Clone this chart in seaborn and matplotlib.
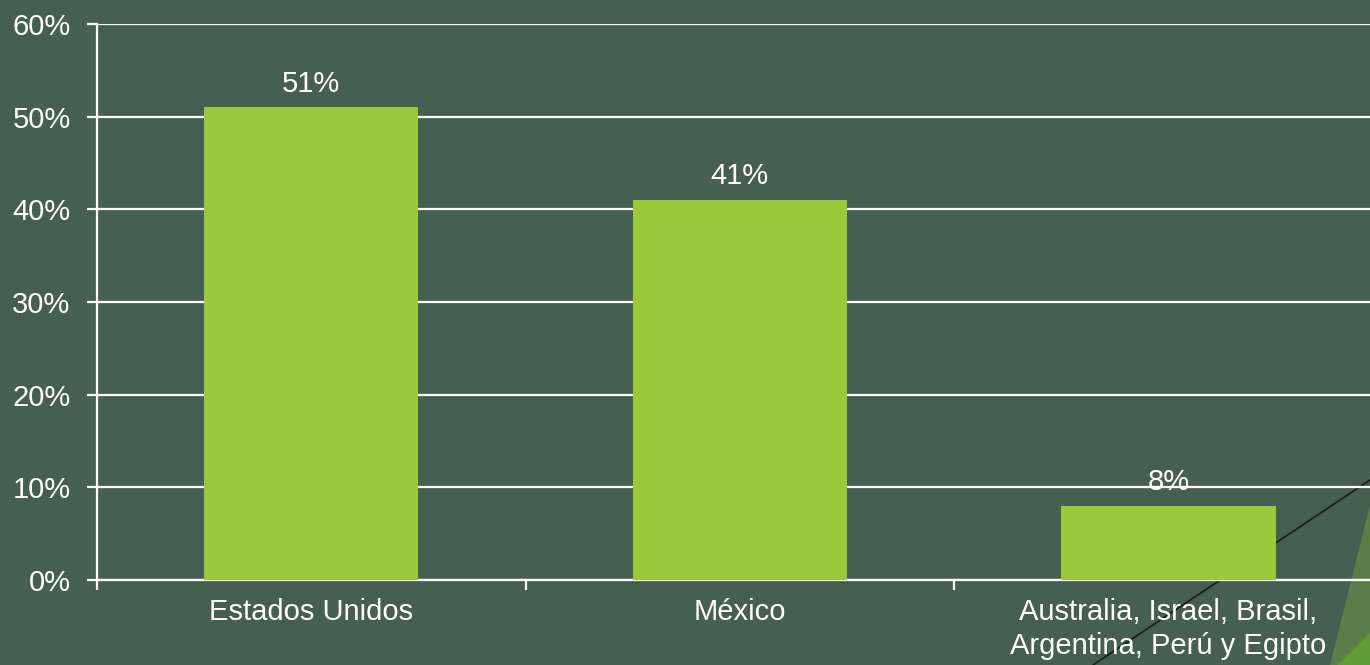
import matplotlib
matplotlib.use("Agg")
import matplotlib.pyplot as plt
import seaborn as sns
import pandas as pd
from matplotlib.patches import Polygon
from matplotlib.lines import Line2D
from matplotlib.ticker import FixedLocator

# Data
paises = ['Estados Unidos', 'México', 'Australia, Israel, Brasil,\nArgentina, Perú y Egipto']
porcentajes = [51, 41, 8]
yticks = [0, 10, 20, 30, 40, 50, 60]

df = pd.DataFrame({'pais': paises, 'pct': porcentajes})

bg = '#455F51'
bar_color = '#9ACA3C'
fs = 21

sns.set_style('white')
plt.rcParams['font.family'] = ['Liberation Sans', 'DejaVu Sans']

fig = plt.figure(figsize=(13.7, 6.65), dpi=100, facecolor=bg)

# decorative line and triangles behind the chart (bottom-right)
fig.add_artist(Line2D([1093 / 1370, 1.0], [0.0, (665 - 480) / 665],
                      color='#1a1a1a', lw=1.2, zorder=0, transform=fig.transFigure))
fig.add_artist(Polygon([[1330 / 1370, 0], [1.0, (665 - 505) / 665], [1.0, 0]],
                       closed=True, facecolor='#5B7D48', edgecolor='none',
                       zorder=0, transform=fig.transFigure))
fig.add_artist(Polygon([[1337 / 1370, 0], [1.0, (665 - 633) / 665], [1.0, 0]],
                       closed=True, facecolor='#5E9B37', edgecolor='none',
                       zorder=0, transform=fig.transFigure))

ax = fig.add_axes([97 / 1370, 85 / 665, 1 - 97 / 1370, 556 / 665])
ax.set_facecolor('none')
ax.set_zorder(1)

sns.barplot(data=df, x='pais', y='pct', color=bar_color, width=0.5,
            saturation=1, linewidth=0, ax=ax, zorder=3)

ax.set_ylim(0, 60)
ax.set_xlim(-0.5, 2.47)
ax.set_yticks(yticks)
ax.set_yticklabels([f'{v}%' for v in yticks])
ax.yaxis.grid(True, color='white', linewidth=1.6, zorder=0)
ax.set_axisbelow(True)

ax.bar_label(ax.containers[0], labels=[f'{v}%' for v in porcentajes],
             padding=7, fontsize=fs, color='white')

ax.set_xlabel('')
ax.set_ylabel('')

for side in ['top', 'right']:
    ax.spines[side].set_visible(False)
for side in ['left', 'bottom']:
    ax.spines[side].set_color('white')
    ax.spines[side].set_linewidth(1.6)

ax.tick_params(axis='y', colors='white', labelsize=fs, length=7, width=1.6,
               pad=12, left=True)
ax.tick_params(axis='x', which='major', colors='white', labelsize=fs, length=0, pad=13)
ax.xaxis.set_minor_locator(FixedLocator([-0.5, 0.5, 1.5]))
ax.tick_params(axis='x', which='minor', color='white', length=7, width=1.6,
               direction='out', bottom=True)
for t in ax.get_xticklabels():
    t.set_horizontalalignment('center')
    t.set_multialignment('center')
    t.set_linespacing(1.25)

fig.savefig('out.png', dpi=100, facecolor=bg)
